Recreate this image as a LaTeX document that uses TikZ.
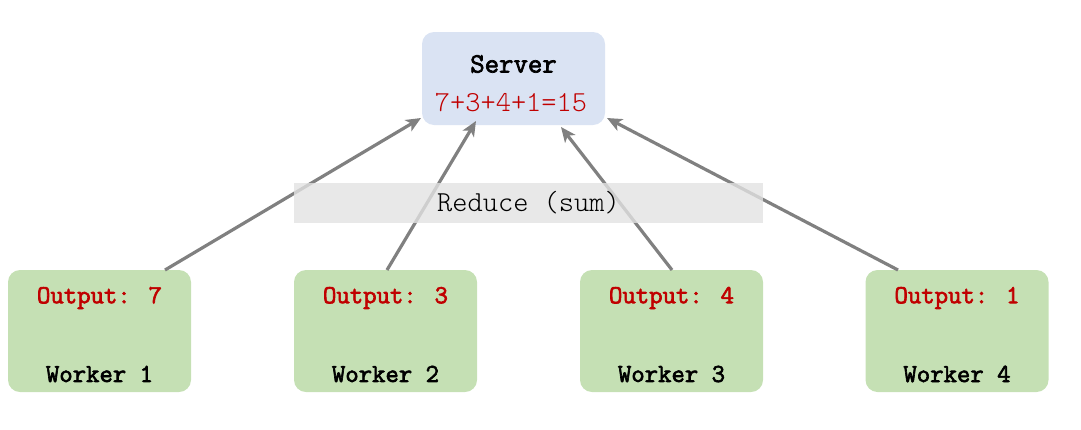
\documentclass[tikz,border=0pt]{standalone}
\usepackage{fontspec}
\newfontfamily\monolight{Latin Modern Mono Light}
\newfontfamily\monobold[FakeBold=2.5]{Latin Modern Mono}
\usetikzlibrary{arrows.meta}
\definecolor{srvfill}{HTML}{DAE3F3}
\definecolor{wkfill}{HTML}{C5E0B4}
\definecolor{redtxt}{HTML}{C00000}
\definecolor{arrgray}{HTML}{808080}
\definecolor{redfill}{HTML}{E2E2E2}
\begin{document}
\begin{tikzpicture}[x=1pt,y=-1pt,
  box/.style={rounded corners=12pt,minimum width=183pt,inner sep=0pt},
  srv/.style={box,fill=srvfill,minimum height=93pt},
  wk/.style={box,fill=wkfill,minimum height=122pt},
  lbl/.style={font=\monobold\fontsize{26}{26}\selectfont,inner sep=0pt},
  conn/.style={draw=arrgray,line width=3.2pt,-{Stealth[length=15pt,width=13pt,inset=4pt]}},
]
\useasboundingbox (0,0) rectangle (1081,429);
\node[srv] (server) at (513.5,78.5) {};
\node[font=\monobold\fontsize{28}{28}\selectfont,inner sep=0pt] (srvt) at (513.5,64) {Server};
\node[font=\monolight\fontsize{29}{29}\selectfont,text=redtxt,inner sep=0pt] (sum) at (511,103) {7+3+4+1=15};

\foreach \i/\x/\v in {1/99.5/7,2/385.5/3,3/671.5/4,4/957/1}{
  \node[wk] (w\i) at (\x,331) {};
  \node[lbl,text=redtxt] (o\i) at (\x,298) {Output: \v};
  \node[lbl] (n\i) at (\x,374) {Worker \i};
}
\coordinate (s1) at (421,118);
\coordinate (s2) at (476,121);
\coordinate (s3) at (561,127);
\coordinate (s4) at (607,118);
\coordinate (b1) at (165,270);
\coordinate (b2) at (387,270);
\coordinate (b3) at (672,270);
\coordinate (b4) at (898,270);
\foreach \i in {1,2,3,4}{ \draw[conn] (b\i) -- (s\i); }

\node[fill=redfill,fill opacity=0.8,text opacity=1,minimum width=469pt,minimum height=40pt,inner sep=0pt,font=\monolight\fontsize{29}{29}\selectfont] (reduce) at (528.5,203) {Reduce (sum)};
\end{tikzpicture}
\end{document}
